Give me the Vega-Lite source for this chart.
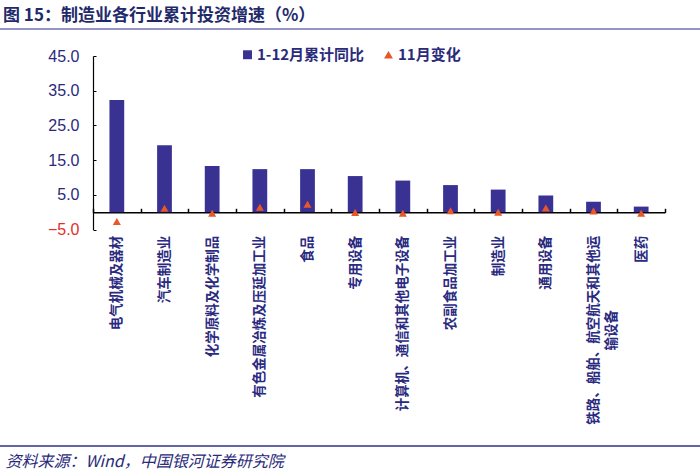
{
  "$schema": "https://vega.github.io/schema/vega-lite/v6.json",
  "width": 700,
  "height": 471,
  "autosize": {"type": "none"},
  "padding": 0,
  "background": "white",
  "config": {"view": {"stroke": null}, "font": "Noto Sans CJK SC"},
  "title": {
    "text": "图 15：制造业各行业累计投资增速（%）",
    "anchor": "start",
    "frame": "group",
    "fontSize": 17,
    "fontWeight": "bold",
    "color": "#1F2A6B",
    "font": "Noto Sans CJK SC",
    "baseline": "middle",
    "offset": 0,
    "dx": 3,
    "dy": 33
  },
  "data": {
    "values": [
      {"cat": "电气机械及器材", "cum": 32.3, "chg": -2.7},
      {"cat": "汽车制造业", "cum": 19.3, "chg": 1.1},
      {"cat": "化学原料及化学制品", "cum": 13.3, "chg": -0.3},
      {"cat": "有色金属冶炼及压延加工业", "cum": 12.4, "chg": 1.4},
      {"cat": "食品", "cum": 12.4, "chg": 2.3},
      {"cat": "专用设备", "cum": 10.4, "chg": -0.1},
      {"cat": "计算机、通信和其他电子设备", "cum": 9.1, "chg": -0.3},
      {"cat": "农副食品加工业", "cum": 7.8, "chg": 0.4},
      {"cat": "制造业", "cum": 6.5, "chg": 0.0},
      {"cat": "通用设备", "cum": 4.8, "chg": 1.2},
      {"cat": "铁路、船舶、航空航天和其他运输设备", "cum": 3.0, "chg": 0.3},
      {"cat": "医药", "cum": 1.6, "chg": -0.3}
    ]
  },
  "encoding": {
    "x": {
      "field": "cat",
      "type": "nominal",
      "sort": null,
      "scale": {"range": [93, 665], "paddingInner": 0, "paddingOuter": 0},
      "axis": {
        "orient": "bottom",
        "offset": -258.7,
        "domain": true,
        "domainColor": "#000000",
        "domainWidth": 1.5,
        "ticks": true,
        "tickBand": "extent",
        "tickSize": -4,
        "tickColor": "#000000",
        "tickWidth": 1.5,
        "labelAngle": -90,
        "labelAlign": "right",
        "labelBaseline": "middle",
        "labelPadding": 27,
        "labelFontSize": 13.5,
        "labelFontWeight": "bold",
        "labelColor": "#2A2A80",
        "labelLineHeight": 18,
        "labelExpr": "datum.label == '铁路、船舶、航空航天和其他运输设备' ? ['铁路、船舶、航空航天和其他运', '输设备\u3000\u3000\u3000\u3000\u3000\u2002\u2060'] : datum.label",
        "labelOverlap": false,
        "labelLimit": 400,
        "title": "资料来源：Wind，中国银河证券研究院",
        "titleX": 5,
        "titleY": 249.4,
        "titleAlign": "left",
        "titleAngle": 0,
        "titleBaseline": "middle",
        "titleFontSize": 16,
        "titleFontWeight": "normal",
        "titleFontStyle": "italic",
        "titleColor": "#2A2A7A"
      }
    }
  },
  "layer": [
    {
      "mark": {"type": "bar", "width": {"band": 0.31}},
      "encoding": {
        "y": {
          "field": "cum",
          "type": "quantitative",
          "title": null,
          "scale": {"domain": [-5, 45], "range": [229.5, 56], "nice": false, "zero": false},
          "axis": {
            "offset": -93,
            "values": [-5, 5, 15, 25, 35, 45],
            "format": ".1f",
            "grid": false,
            "domainColor": "#000000",
            "domainWidth": 1.2,
            "tickColor": "#000000",
            "tickSize": -3,
            "labelPadding": 17,
            "labelFontSize": 16,
            "labelFont": "Liberation Sans",
            "labelColor": {"condition": {"test": "datum.value < 0", "value": "#E0302A"}, "value": "#2A2A7A"},
            "title": null
          }
        },
        "color": {
          "datum": "1-12月累计同比",
          "scale": {"domain": ["1-12月累计同比", "11月变化"], "range": ["#3A3293", "#E8572A"]},
          "legend": {
            "orient": "none",
            "legendX": 240,
            "legendY": 47,
            "direction": "horizontal",
            "title": null,
            "labelFontSize": 15,
            "labelFontWeight": "bold",
            "labelColor": "#2A2A7A",
            "labelOffset": 2,
            "columnPadding": 16,
            "symbolSize": 80,
            "symbolStrokeWidth": 0,
            "symbolOpacity": 1,
            "encode": {
              "symbols": {
                "update": {
                  "shape": {"signal": "datum.value == '11月变化' ? 'triangle-up' : 'square'"}
                }
              }
            }
          }
        }
      }
    },
    {
      "mark": {"type": "point", "shape": "triangle-up", "filled": true, "size": 65, "opacity": 1},
      "encoding": {
        "y": {"field": "chg", "type": "quantitative", "title": null},
        "color": {"datum": "11月变化"}
      }
    },
    {
      "data": {"values": [{}]},
      "mark": {"type": "rule", "color": "#7070B4", "strokeWidth": 1.5},
      "encoding": {"y": {"datum": 52.78, "type": "quantitative", "title": null}, "x": null}
    },
    {
      "data": {"values": [{}]},
      "mark": {"type": "rule", "color": "#6464A8", "strokeWidth": 2},
      "encoding": {"y": {"datum": -67.39, "type": "quantitative", "title": null}, "x": null}
    }
  ]
}
